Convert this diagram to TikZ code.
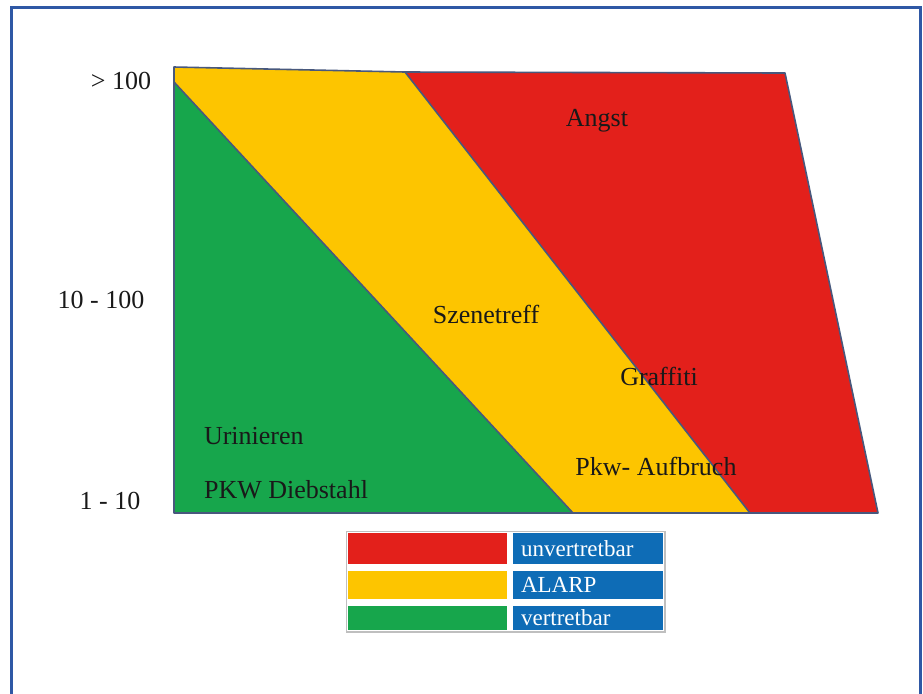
\documentclass[tikz,border=0pt]{standalone}
\usepackage{fontspec}
\setmainfont{Liberation Serif}
\usepackage{xcolor}
\definecolor{framblue}{RGB}{47,88,165}
\definecolor{edgegray}{RGB}{72,88,125}
\definecolor{riskgreen}{RGB}{23,166,76}
\definecolor{riskyellow}{RGB}{253,197,0}
\definecolor{riskred}{RGB}{227,32,27}
\definecolor{legendblue}{RGB}{14,108,182}
\definecolor{textdark}{RGB}{25,25,25}

\begin{document}
\begin{tikzpicture}[x=0.5pt,y=-0.5pt]
\tikzset{
  axislabel/.style={text=textdark, font=\fontsize{13}{15}\selectfont},
  risklabel/.style={text=textdark, font=\fontsize{13}{15}\selectfont},
  legendlabel/.style={text=white, font=\fontsize{11.5}{13}\selectfont, anchor=west}
}
\clip (0,0) rectangle (923,693);

% 1. FRAME
\fill[white] (0,0) rectangle (923,693);
\draw[framblue, line width=1.5pt] (11,7) rectangle (920,705);

% 2. RISK AREAS
% Green (vertretbar)
\fill[riskgreen] (174,82) -- (573,513) -- (174,513) -- cycle;
% Yellow (ALARP)
\fill[riskyellow] (174,67) -- (405,72) -- (750,513) -- (573,513) -- (174,82) -- cycle;
% Red (unvertretbar)
\fill[riskred] (405,72) -- (785,73) -- (878,513) -- (750,513) -- cycle;

% Outlines
\draw[edgegray, line width=0.8pt, line join=round]
  (174,67) -- (405,72) -- (785,73) -- (878,513) -- (174,513) -- cycle;
\draw[edgegray, line width=0.8pt] (174,82) -- (573,513);
\draw[edgegray, line width=0.8pt] (405,72) -- (750,513);

% 3. AXIS LABELS
\node[axislabel] (high) at (121,81) {> 100};
\node[axislabel] (mid) at (101,300) {10 - 100};
\node[axislabel] (low) at (110,501) {1 - 10};

% 4. EVENTS
\node[risklabel] (angst) at (597,121) {Angst};
\node[risklabel] (szene) at (486,314) {Szenetreff};
\node[risklabel] (graffiti) at (659,376) {Graffiti};
\node[risklabel, anchor=west] (urin) at (197,436) {Urinieren};
\node[risklabel, anchor=west] (diebstahl) at (197,490) {PKW Diebstahl};
\node[risklabel] (aufbruch) at (656,466) {Pkw- Aufbruch};

% 5. LEGEND
\fill[black!25] (346,531) rectangle (666,633);
\fill[white] (347,532) rectangle (664,631);
% Rows
\fill[riskred] (348,533) rectangle (507,564);
\fill[legendblue] (513,533) rectangle (663,564);
\fill[riskyellow] (348,571) rectangle (507,599);
\fill[legendblue] (513,571) rectangle (663,599);
\fill[riskgreen] (348,606) rectangle (507,630);
\fill[legendblue] (513,606) rectangle (663,630);
\node[legendlabel] (unv) at (514,549) {unvertretbar};
\node[legendlabel] (alarp) at (514,585) {ALARP};
\node[legendlabel] (vert) at (514,618) {vertretbar};

\end{tikzpicture}
\end{document}
